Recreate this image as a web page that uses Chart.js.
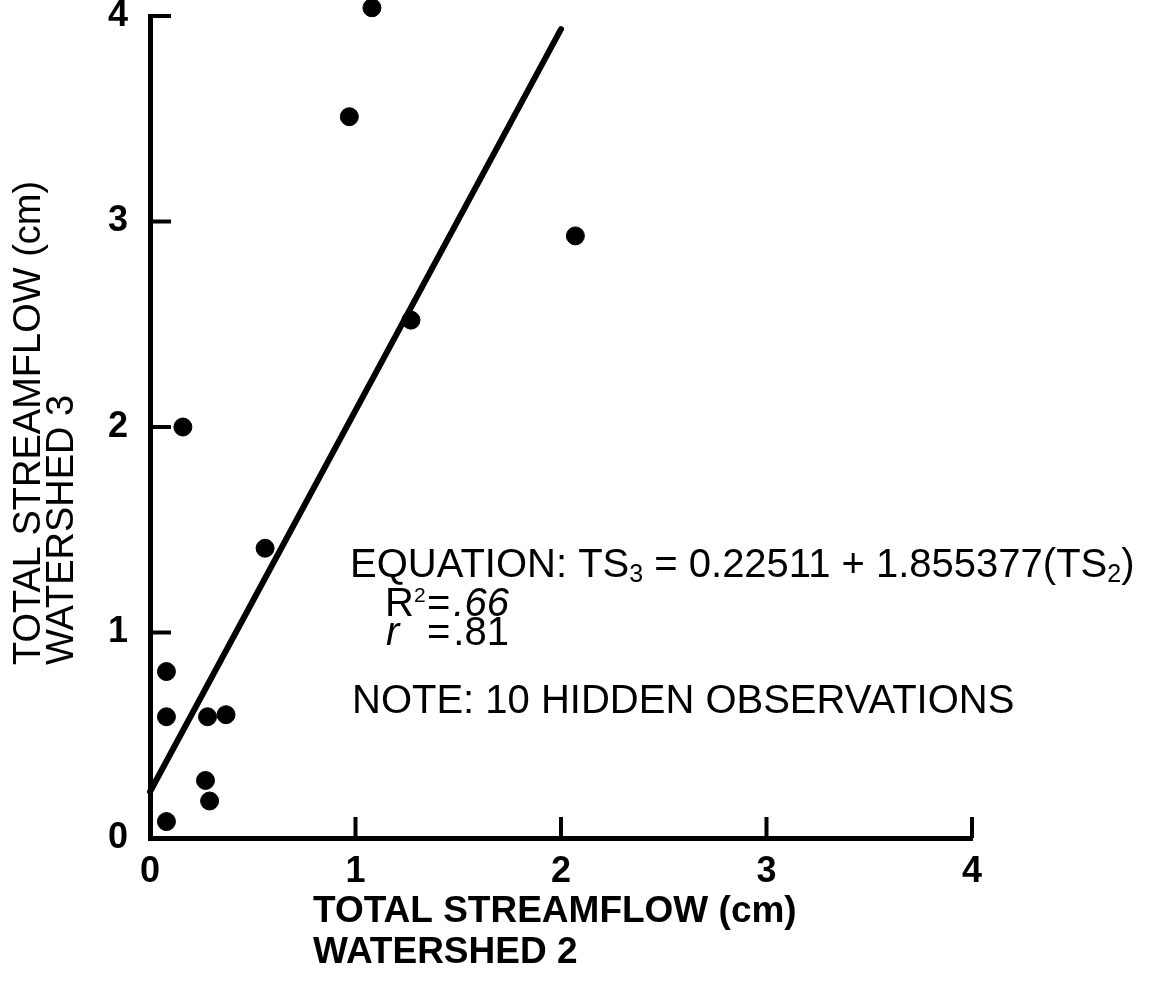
<!DOCTYPE html>
<html>
<head>
<meta charset="utf-8">
<script src="https://cdn.jsdelivr.net/npm/chart.js@4"></script>
<style>
  html, body { margin: 0; padding: 0; background: #fff; }
  #wrap { width: 1152px; height: 989px; }
</style>
</head>
<body>
<div id="wrap"><canvas id="streamflowChart" width="1152" height="989"></canvas></div>
<script>
// observations: total streamflow (cm), watershed 2 vs watershed 3
const watershed2 = [1.08, 0.97, 2.07, 1.27, 0.16, 0.56, 0.08, 0.08, 0.28, 0.37, 0.27, 0.29, 0.08];
const watershed3 = [4.04, 3.51, 2.93, 2.52, 2.00, 1.41, 0.81, 0.59, 0.59, 0.60, 0.28, 0.18, 0.08];

// regression TS3 = a + b * TS2
const intercept = 0.22511;
const slope = 1.855377;
const fitRange = [0, 2];
const rSquared = '.66';
const rValue = '.81';
const hiddenCount = 10;

const tickValues = [0, 1, 2, 3, 4];

const FONT = "'Liberation Sans', Arial, Helvetica, sans-serif";

const points = watershed2.map((x, i) => ({ x, y: watershed3[i] }));
const fitLine = fitRange.map((x) => ({ x, y: intercept + slope * x }));

// draw a row of text pieces (sub/superscripts, italics) left to right
const drawRuns = (ctx, x, y, runs) => {
    let cx = x;
    runs.forEach((run) => {
        ctx.font = run.font;
        cx += run.gap || 0;
        ctx.fillText(run.text, cx, y + (run.dy || 0));
        cx += ctx.measureText(run.text).width;
    });
};

const figureText = {
    id: 'figureText',
    afterDraw(chart) {
        const { ctx } = chart;
        const xs = chart.scales.x;
        const ys = chart.scales.y;
        ctx.save();

        // inward tick marks
        ctx.strokeStyle = '#000';
        ctx.lineWidth = 4;
        tickValues.slice(1).forEach((v) => {
            const px = xs.getPixelForValue(v);
            ctx.beginPath();
            ctx.moveTo(px, xs.top);
            ctx.lineTo(px, xs.top - 21);
            ctx.stroke();

            const py = ys.getPixelForValue(v);
            ctx.beginPath();
            ctx.moveTo(ys.right, py);
            ctx.lineTo(ys.right + 21, py);
            ctx.stroke();
        });

        ctx.fillStyle = '#000';
        ctx.textAlign = 'left';
        ctx.textBaseline = 'middle';

        const reg = `40px ${FONT}`;
        const ital = `italic 40px ${FONT}`;
        const small = `25px ${FONT}`;
        const sup = `21px ${FONT}`;

        drawRuns(ctx, 350, 566, [
            { text: 'EQUATION: TS', font: reg },
            { text: '3', font: small, dy: 9 },
            { text: ` = ${intercept} + ${slope}(TS`, font: reg },
            { text: '2', font: small, dy: 9 },
            { text: ')', font: reg },
        ]);

        drawRuns(ctx, 385, 605, [
            { text: 'R', font: reg },
            { text: '2', font: sup, dy: -9 },
        ]);
        drawRuns(ctx, 427, 605, [
            { text: '=', font: reg },
            { text: rSquared, font: ital, gap: 3 },
        ]);
        drawRuns(ctx, 386, 634, [{ text: 'r', font: ital }]);
        drawRuns(ctx, 427, 634, [
            { text: '=', font: reg },
            { text: rValue, font: reg, gap: 3 },
        ]);

        drawRuns(ctx, 352, 702, [
            { text: `NOTE: ${hiddenCount} HIDDEN OBSERVATIONS`, font: reg },
        ]);

        // axis titles
        ctx.font = `bold 37px ${FONT}`;
        ctx.fillText('TOTAL STREAMFLOW (cm)', 313, 912);
        ctx.fillText('WATERSHED 2', 313, 953);

        ctx.font = `38px ${FONT}`;
        [['TOTAL STREAMFLOW (cm)', 30], ['WATERSHED 3', 63]].forEach(([t, lx]) => {
            ctx.save();
            ctx.translate(lx, 665);
            ctx.rotate(-Math.PI / 2);
            ctx.fillText(t, 0, 0);
            ctx.restore();
        });

        ctx.restore();
    },
};

const axis = (pad, fit) => ({
    type: 'linear',
    min: tickValues[0],
    max: tickValues[tickValues.length - 1],
    grid: { display: false },
    border: { display: true, color: '#000', width: 5 },
    ticks: {
        stepSize: 1,
        color: '#000',
        padding: pad,
        font: { family: FONT, size: 36, weight: 'bold' },
        callback: (v) => (tickValues.includes(v) ? String(v) : ''),
    },
    afterFit: fit,
});

new Chart(document.getElementById('streamflowChart'), {
    type: 'scatter',
    data: {
        datasets: [
            {
                type: 'line',
                data: fitLine,
                borderColor: '#000',
                borderWidth: 6,
                borderCapStyle: 'round',
                pointRadius: 0,
                clip: false,
            },
            {
                data: points,
                backgroundColor: '#000',
                borderColor: '#000',
                pointRadius: 9,
                clip: false,
            },
        ],
    },
    options: {
        responsive: false,
        animation: false,
        devicePixelRatio: 1,
        layout: { padding: { top: 16, right: 180, left: 0, bottom: 0 } },
        plugins: {
            legend: { display: false },
            tooltip: { enabled: false },
        },
        scales: {
            x: axis(4, (s) => {
                s.height = 151;
                s.paddingLeft = 0;
                s.paddingRight = 0;
            }),
            y: axis(14, (s) => {
                s.width = 150;
                s.paddingTop = 0;
                s.paddingBottom = 0;
            }),
        },
    },
    plugins: [figureText],
});
</script>
</body>
</html>
